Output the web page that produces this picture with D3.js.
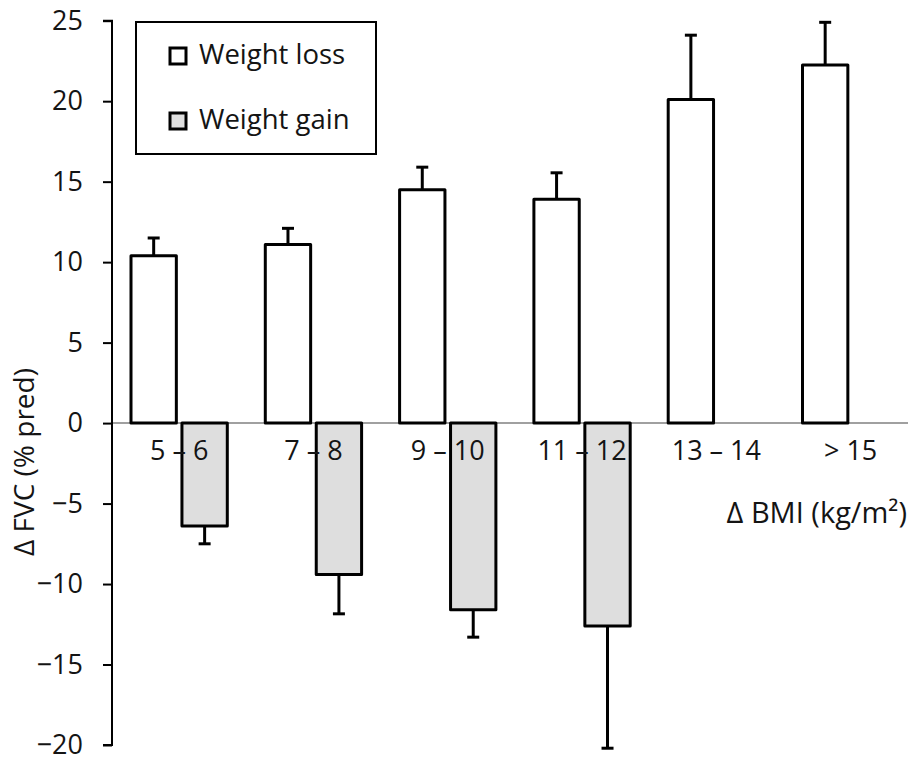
<!DOCTYPE html>
<html>
<head>
<meta charset="utf-8">
<script src="https://cdn.jsdelivr.net/npm/d3@7"></script>
<style>
  html, body { margin: 0; padding: 0; background: #fff; }
  svg { display: block; }
  text { font-family: "Open Sans", "Liberation Sans", sans-serif; fill: #141414; }
</style>
</head>
<body>
<svg id="chart" width="908" height="760"></svg>
<script>
// Change in BMI categories (x axis)
const categories = ["5 – 6", "7 – 8", "9 – 10", "11 – 12", "13 – 14", "> 15"];
// Mean change in FVC (% predicted) and its error (one-sided bar)
const lossMean = [10.4, 11.1, 14.5, 13.9, 20.1, 22.25];
const lossErr  = [1.1, 1.0, 1.4, 1.65, 4.0, 2.65];
const gainMean = [-6.4, -9.4, -11.6, -12.6, null, null];
const gainErr  = [1.1, 2.45, 1.7, 7.6, null, null];
const yTicks = [25, 20, 15, 10, 5, 0, -5, -10, -15, -20];
const seriesNames = ["Weight loss", "Weight gain"];
const seriesFill = ["#ffffff", "#dedede"];

const svg = d3.select("#chart");
const axisX = 112;

const y = d3.scaleLinear().domain([-20, 25]).range([745, 20.7]);
const x = d3.scaleBand().domain(categories).range([axisX, axisX + 6 * 134.3]);
const xSub = d3.scaleBand().domain(["loss", "gain"]).range([19, 115.3]).paddingInner(0.11);

// zero baseline
svg.append("line")
  .attr("x1", axisX).attr("x2", 908)
  .attr("y1", y(0)).attr("y2", y(0))
  .attr("stroke", "#a0a0a0").attr("stroke-width", 2);

const rows = categories.map((c, i) => ({
  cat: c, loss: lossMean[i], lossE: lossErr[i], gain: gainMean[i], gainE: gainErr[i]
}));

// error bars (drawn beneath the bars so they start at the bar edge)
const eb = svg.append("g").attr("stroke", "#000").attr("stroke-width", 3);
rows.forEach(r => {
  const cx = x(r.cat) + xSub("loss") + xSub.bandwidth() / 2;
  eb.append("line").attr("x1", cx).attr("x2", cx).attr("y1", y(r.loss)).attr("y2", y(r.loss + r.lossE));
  eb.append("line").attr("x1", cx - 6).attr("x2", cx + 6).attr("y1", y(r.loss + r.lossE)).attr("y2", y(r.loss + r.lossE));
  if (r.gain != null) {
    const gx = x(r.cat) + xSub("gain") + xSub.bandwidth() / 2;
    eb.append("line").attr("x1", gx).attr("x2", gx).attr("y1", y(r.gain)).attr("y2", y(r.gain - r.gainE));
    eb.append("line").attr("x1", gx - 6).attr("x2", gx + 6).attr("y1", y(r.gain - r.gainE)).attr("y2", y(r.gain - r.gainE));
  }
});

// bars
const bars = svg.append("g").attr("stroke", "#000").attr("stroke-width", 3).attr("stroke-linejoin", "round");
bars.selectAll("rect.loss").data(rows).join("rect")
  .attr("class", "loss")
  .attr("x", d => x(d.cat) + xSub("loss"))
  .attr("width", xSub.bandwidth())
  .attr("y", d => y(d.loss))
  .attr("height", d => y(0) - y(d.loss))
  .attr("fill", seriesFill[0]);
bars.selectAll("rect.gain").data(rows.filter(d => d.gain != null)).join("rect")
  .attr("class", "gain")
  .attr("x", d => x(d.cat) + xSub("gain"))
  .attr("width", xSub.bandwidth())
  .attr("y", y(0))
  .attr("height", d => y(d.gain) - y(0))
  .attr("fill", seriesFill[1]);

// y axis
const yAxis = d3.axisLeft(y).tickValues(yTicks).tickSize(9).tickPadding(20).tickFormat(d3.format("d"));
const gy = svg.append("g").attr("transform", `translate(${axisX},0)`).call(yAxis);
gy.select(".domain").attr("stroke", "#000").attr("stroke-width", 2).attr("d", `M-9,${y(25)}H0V${y(-20)}H-9`);
gy.selectAll(".tick line").attr("stroke", "#000").attr("stroke-width", 2);
gy.selectAll(".tick text").style("font-size", "27px").style("font-family", "'Open Sans', sans-serif").attr("fill", "#141414");

// category labels on the zero line
svg.append("g").selectAll("text").data(categories).join("text")
  .attr("x", d => x(d) + x.bandwidth() / 2)
  .attr("y", y(0) + 37)
  .attr("text-anchor", "middle")
  .style("font-size", "27px")
  .text(d => d);

// axis titles
svg.append("text")
  .attr("x", 907).attr("y", 523)
  .attr("text-anchor", "end")
  .style("font-size", "29px")
  .text("Δ BMI (kg/m²)");
svg.append("text")
  .attr("transform", `translate(34,462) rotate(-90)`)
  .attr("text-anchor", "middle")
  .style("font-size", "28px")
  .text("Δ FVC (% pred)");

// legend
const lg = svg.append("g");
lg.append("rect").attr("x", 136).attr("y", 22).attr("width", 240).attr("height", 132)
  .attr("fill", "#fff").attr("stroke", "#000").attr("stroke-width", 2);
seriesNames.forEach((name, i) => {
  const yy = 48 + i * 65;
  lg.append("rect").attr("x", 170).attr("y", yy).attr("width", 16).attr("height", 16)
    .attr("fill", seriesFill[i]).attr("stroke", "#000").attr("stroke-width", 3);
  lg.append("text").attr("x", 199).attr("y", yy + 16)
    .style("font-size", "27.5px").text(name);
});
</script>
</body>
</html>
